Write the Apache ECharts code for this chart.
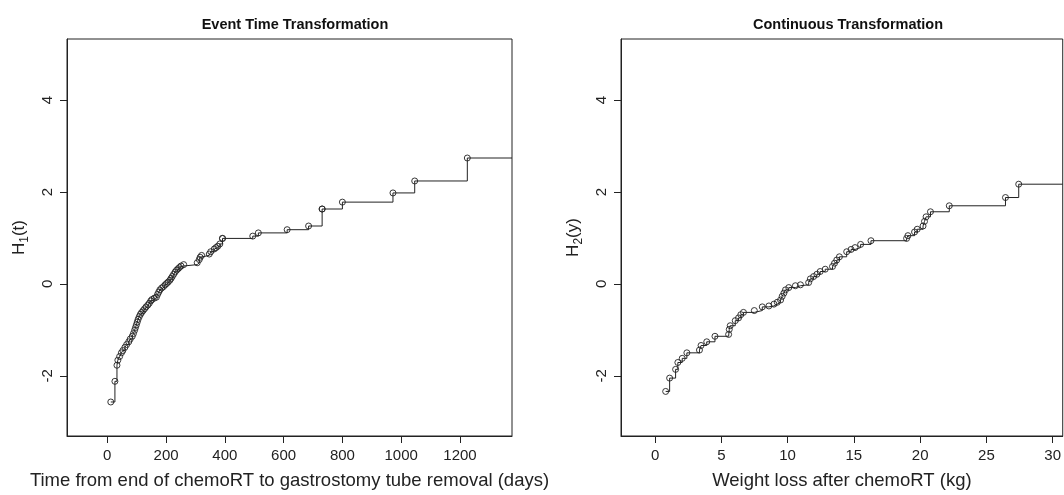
<!DOCTYPE html>
<html>
<head>
<meta charset="utf-8">
<script src="https://cdn.jsdelivr.net/npm/echarts@6/dist/echarts.min.js"></script>
<style>
html,body{margin:0;padding:0;background:#fff}
#chart{width:1064px;height:495px}
</style>
</head>
<body>
<div id="chart"></div>
<script>
// left panel: event time transformation
var eventTime = [12,26,33,36,42,48,53,60,66,73,78,85,89,93,96,99,102,105,109,113,117,122,127,132,138,143,148,152,160,167,171,175,179,185,191,197,202,207,213,217,221,226,231,236,241,246,251,260,306,313,316,321,347,352,364,370,376,383,392,392,495,514,612,685,731,731,800,972,1046,1225];
var eventH = [-2.57,-2.12,-1.77,-1.66,-1.58,-1.50,-1.45,-1.38,-1.32,-1.26,-1.20,-1.14,-1.08,-1.01,-0.95,-0.89,-0.83,-0.77,-0.71,-0.66,-0.62,-0.58,-0.54,-0.50,-0.46,-0.42,-0.37,-0.34,-0.31,-0.29,-0.23,-0.18,-0.13,-0.09,-0.06,-0.02,0.01,0.04,0.08,0.12,0.16,0.21,0.26,0.30,0.33,0.36,0.39,0.42,0.46,0.53,0.58,0.62,0.65,0.70,0.76,0.79,0.82,0.87,0.99,0.99,1.04,1.11,1.18,1.26,1.63,1.63,1.78,1.98,2.24,2.74];

// right panel: continuous transformation
var weightLoss = [0.80,1.10,1.55,1.72,2.05,2.40,3.35,3.47,3.90,4.52,5.55,5.60,5.67,6.05,6.30,6.47,6.67,7.49,8.09,8.59,8.97,9.22,9.47,9.59,9.72,9.84,10.09,10.59,10.97,11.59,11.72,11.96,12.21,12.46,12.84,13.39,13.54,13.71,13.91,14.46,14.79,15.09,15.51,16.29,18.98,19.08,19.58,19.78,20.22,20.33,20.45,20.78,22.20,26.44,27.44];
var weightH = [-2.34,-2.05,-1.86,-1.71,-1.62,-1.50,-1.44,-1.34,-1.26,-1.14,-1.10,-0.99,-0.91,-0.80,-0.74,-0.67,-0.62,-0.58,-0.50,-0.48,-0.44,-0.40,-0.35,-0.27,-0.20,-0.13,-0.08,-0.04,-0.02,0.03,0.11,0.16,0.21,0.27,0.32,0.38,0.45,0.52,0.59,0.70,0.75,0.79,0.86,0.94,0.99,1.05,1.13,1.19,1.26,1.36,1.46,1.57,1.70,1.88,2.17];

var timeTicks = [0,200,400,600,800,1000,1200];
var weightTicks = [0,5,10,15,20,25,30];
var hTicks = [-2,0,2,4];

var timeRange = [-137,1377];
var weightRange = [-2.57,30.76];
var hRange = [-3.31,5.33];

var FONT = 'Liberation Sans, Arial, Helvetica, sans-serif';
var INK = '#222';

function pairs(xs, ys){
    return xs.map(function(x, i){ return [x, ys[i]]; });
}

function plain(v){ return String(v); }

function xAxisOf(idx, name, range, ticks){
    return {
        type:'value', gridIndex:idx, min:range[0], max:range[1],
        name:name, nameLocation:'middle', nameGap:35,
        nameTextStyle:{fontFamily:FONT, fontSize:18.5, color:INK},
        axisLine:{show:true, onZero:false, lineStyle:{color:INK, width:1}},
        axisTick:{show:true, length:7, lineStyle:{color:INK}, customValues:ticks},
        axisLabel:{fontFamily:FONT, fontSize:15, color:INK, margin:12, customValues:ticks, formatter:plain},
        splitLine:{show:false}
    };
}

function yAxisOf(idx, sub, arg){
    return {
        type:'value', gridIndex:idx, min:hRange[0], max:hRange[1],
        name:'{n|H}{s|' + sub + '}{n|(' + arg + ')}', nameLocation:'middle', nameGap:36, nameRotate:90,
        nameTextStyle:{
            color:INK,
            rich:{
                n:{fontFamily:FONT, fontSize:17, color:INK, lineHeight:24, verticalAlign:'middle'},
                s:{fontFamily:FONT, fontSize:12, color:INK, lineHeight:12, verticalAlign:'bottom'}
            }
        },
        axisLine:{show:true, onZero:false, lineStyle:{color:INK, width:1}},
        axisTick:{show:true, length:7, lineStyle:{color:INK}, customValues:hTicks},
        axisLabel:{fontFamily:FONT, fontSize:15, color:INK, margin:12, rotate:90, customValues:hTicks, formatter:plain},
        splitLine:{show:false}
    };
}

function stepSeries(idx, xs, ys){
    return {
        type:'line', xAxisIndex:idx, yAxisIndex:idx, step:'end',
        data:pairs(xs, ys), symbol:'circle', symbolSize:6, showAllSymbol:true,
        lineStyle:{color:INK, width:1},
        itemStyle:{color:'rgba(255,255,255,0)', borderColor:INK, borderWidth:0.9},
        emphasis:{disabled:true}, clip:true, z:3
    };
}

function tailSeries(idx, xs, ys, xmax){
    var n = xs.length - 1;
    return {
        type:'line', xAxisIndex:idx, yAxisIndex:idx,
        data:[[xs[n], ys[n]], [xmax, ys[n]]], symbol:'none',
        lineStyle:{color:INK, width:1}, clip:true, z:2
    };
}

var chart = echarts.init(document.getElementById('chart'));
chart.setOption({
    animation:false,
    backgroundColor:'#fff',
    title:[
        {text:'Event Time Transformation', left:290, top:12, textAlign:'center',
         textStyle:{fontFamily:FONT, fontSize:14.5, fontWeight:'bold', color:'#111'}},
        {text:'Continuous Transformation', left:843, top:12, textAlign:'center',
         textStyle:{fontFamily:FONT, fontSize:14.5, fontWeight:'bold', color:'#111'}}
    ],
    grid:[
        {left:67, right:552, top:39, bottom:56, show:true, borderColor:INK, borderWidth:1, backgroundColor:'transparent'},
        {left:621, right:-2, top:39, bottom:56, show:true, borderColor:INK, borderWidth:1, backgroundColor:'transparent'}
    ],
    xAxis:[
        xAxisOf(0, 'Time from end of chemoRT to gastrostomy tube removal (days)', timeRange, timeTicks),
        xAxisOf(1, 'Weight loss after chemoRT (kg)', weightRange, weightTicks)
    ],
    yAxis:[
        yAxisOf(0, '1', 't'),
        yAxisOf(1, '2', 'y')
    ],
    series:[
        stepSeries(0, eventTime, eventH),
        tailSeries(0, eventTime, eventH, timeRange[1]),
        stepSeries(1, weightLoss, weightH),
        tailSeries(1, weightLoss, weightH, weightRange[1])
    ]
});
</script>
</body>
</html>
